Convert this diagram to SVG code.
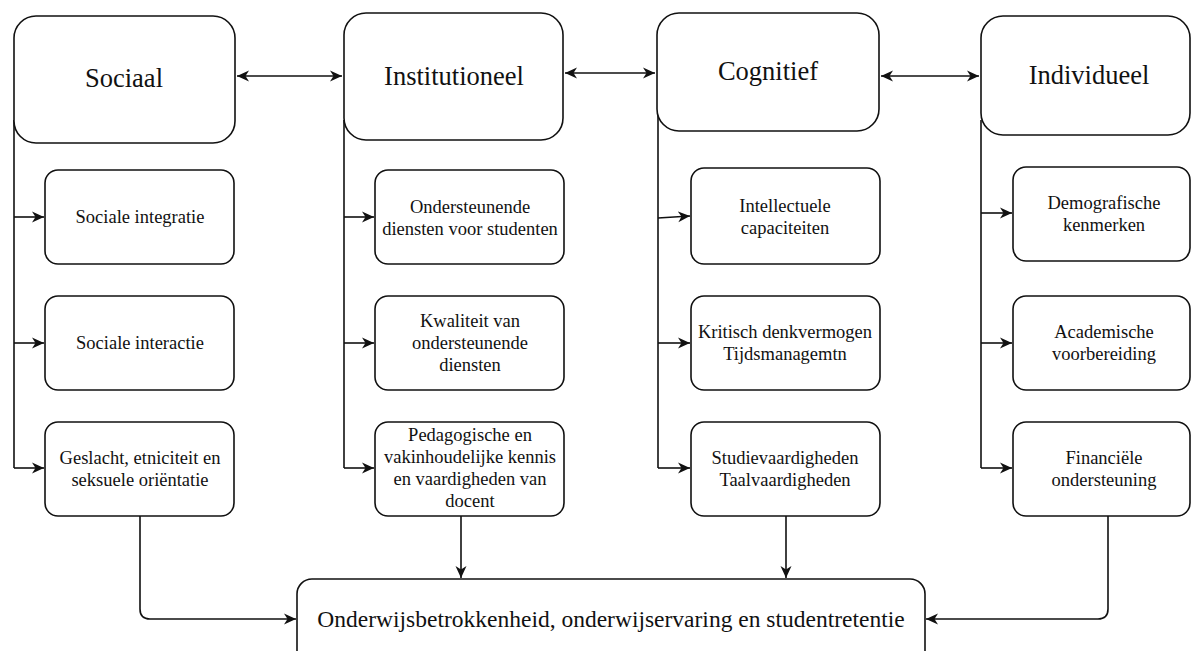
<svg xmlns="http://www.w3.org/2000/svg" width="1192" height="651" viewBox="0 0 1192 651">
<style>
.box{fill:#fff;stroke:#111;stroke-width:1.6}
.ln{fill:none;stroke:#111;stroke-width:1.6}
.h{font-size:26.5px}
.s{font-size:18.5px}
.b{font-size:23.5px}
</style>
<defs>
<marker id="ae" markerUnits="userSpaceOnUse" markerWidth="14" markerHeight="12" viewBox="0 0 14 12" refX="12" refY="6" orient="auto">
<path d="M0,0.5 L12,6 L0,11.5 L3.5,6 Z" fill="#111"/>
</marker>
<marker id="as" markerUnits="userSpaceOnUse" markerWidth="14" markerHeight="12" viewBox="0 0 14 12" refX="0" refY="6" orient="auto">
<path d="M12,0.5 L0,6 L12,11.5 L8.5,6 Z" fill="#111"/>
</marker>
</defs>
<rect width="1192" height="651" fill="#fff"/>

<g id="connectors">
<path class="ln" d="M237,76 H342" marker-start="url(#as)" marker-end="url(#ae)"/>
<path class="ln" d="M565,73 H655" marker-start="url(#as)" marker-end="url(#ae)"/>
<path class="ln" d="M881,76 H979" marker-start="url(#as)" marker-end="url(#ae)"/>
<path class="ln" d="M14,120 V468"/>
<path class="ln" d="M14,217 H44" marker-end="url(#ae)"/>
<path class="ln" d="M14,343 H44" marker-end="url(#ae)"/>
<path class="ln" d="M14,468 H44" marker-end="url(#ae)"/>
<path class="ln" d="M344,120 V468"/>
<path class="ln" d="M344,217 H374" marker-end="url(#ae)"/>
<path class="ln" d="M344,343 H374" marker-end="url(#ae)"/>
<path class="ln" d="M344,468 H374" marker-end="url(#ae)"/>
<path class="ln" d="M658,115 V468"/>
<path class="ln" d="M658,218 L690,216" marker-end="url(#ae)"/>
<path class="ln" d="M658,343 H690" marker-end="url(#ae)"/>
<path class="ln" d="M658,468 H690" marker-end="url(#ae)"/>
<path class="ln" d="M981,120 V468"/>
<path class="ln" d="M981,213 H1012" marker-end="url(#ae)"/>
<path class="ln" d="M981,343 H1012" marker-end="url(#ae)"/>
<path class="ln" d="M981,468 H1012" marker-end="url(#ae)"/>
<path class="ln" d="M140,516 V609 Q140,619 150,619 H296" marker-end="url(#ae)"/>
<path class="ln" d="M461,516 V578" marker-end="url(#ae)"/>
<path class="ln" d="M786,516 V578" marker-end="url(#ae)"/>
<path class="ln" d="M1108,516 V609 Q1108,619 1098,619 H926" marker-end="url(#ae)"/>
</g>

<g id="nodes" font-family="Liberation Serif, Times New Roman, serif" fill="#111" text-anchor="middle">
<g id="sociaal">
<rect class="box" x="14" y="16" width="221" height="127" rx="22"/>
<text class="h" x="124" y="87">Sociaal</text>
</g>
<g id="institutioneel">
<rect class="box" x="344" y="13" width="219" height="127" rx="22"/>
<text class="h" x="454" y="85">Institutioneel</text>
</g>
<g id="cognitief">
<rect class="box" x="657" y="13" width="222" height="118" rx="22"/>
<text class="h" x="768" y="80">Cognitief</text>
</g>
<g id="individueel">
<rect class="box" x="981" y="16" width="209" height="119" rx="22"/>
<text class="h" x="1089" y="84">Individueel</text>
</g>

<g id="sociale-integratie">
<rect class="box" x="45" y="170" width="189" height="94" rx="13"/>
<text class="s" x="140" y="223">Sociale integratie</text>
</g>
<g id="sociale-interactie">
<rect class="box" x="45" y="296" width="189" height="94" rx="13"/>
<text class="s" x="140" y="349">Sociale interactie</text>
</g>
<g id="geslacht">
<rect class="box" x="45" y="422" width="189" height="94" rx="13"/>
<text class="s" x="140" y="464">Geslacht, etniciteit en</text>
<text class="s" x="140" y="486">seksuele oriëntatie</text>
</g>

<g id="ondersteunende-diensten">
<rect class="box" x="375" y="170" width="189" height="94" rx="13"/>
<text class="s" x="470" y="213">Ondersteunende</text>
<text class="s" x="470" y="235">diensten voor studenten</text>
</g>
<g id="kwaliteit">
<rect class="box" x="375" y="296" width="189" height="94" rx="13"/>
<text class="s" x="470" y="327">Kwaliteit van</text>
<text class="s" x="470" y="349">ondersteunende</text>
<text class="s" x="470" y="371">diensten</text>
</g>
<g id="pedagogische">
<rect class="box" x="375" y="422" width="189" height="94" rx="13"/>
<text class="s" x="470" y="441">Pedagogische en</text>
<text class="s" x="470" y="463">vakinhoudelijke kennis</text>
<text class="s" x="470" y="485">en vaardigheden van</text>
<text class="s" x="470" y="507">docent</text>
</g>

<g id="intellectuele">
<rect class="box" x="691" y="168" width="189" height="96" rx="13"/>
<text class="s" x="785" y="212">Intellectuele</text>
<text class="s" x="785" y="234">capaciteiten</text>
</g>
<g id="kritisch">
<rect class="box" x="691" y="296" width="189" height="94" rx="13"/>
<text class="s" x="785" y="338">Kritisch denkvermogen</text>
<text class="s" x="785" y="360">Tijdsmanagemtn</text>
</g>
<g id="studie">
<rect class="box" x="691" y="422" width="189" height="94" rx="13"/>
<text class="s" x="785" y="464">Studievaardigheden</text>
<text class="s" x="785" y="486">Taalvaardigheden</text>
</g>

<g id="demografische">
<rect class="box" x="1013" y="167" width="177" height="94" rx="13"/>
<text class="s" x="1104" y="209">Demografische</text>
<text class="s" x="1104" y="231">kenmerken</text>
</g>
<g id="academische">
<rect class="box" x="1013" y="296" width="177" height="94" rx="13"/>
<text class="s" x="1104" y="338">Academische</text>
<text class="s" x="1104" y="360">voorbereiding</text>
</g>
<g id="financiele">
<rect class="box" x="1013" y="422" width="177" height="94" rx="13"/>
<text class="s" x="1104" y="464">Financiële</text>
<text class="s" x="1104" y="486">ondersteuning</text>
</g>

<g id="onderwijsbetrokkenheid">
<rect class="box" x="297" y="579" width="628" height="100" rx="15"/>
<text class="b" x="611" y="627">Onderwijsbetrokkenheid, onderwijservaring en studentretentie</text>
</g>
</g>
</svg>
